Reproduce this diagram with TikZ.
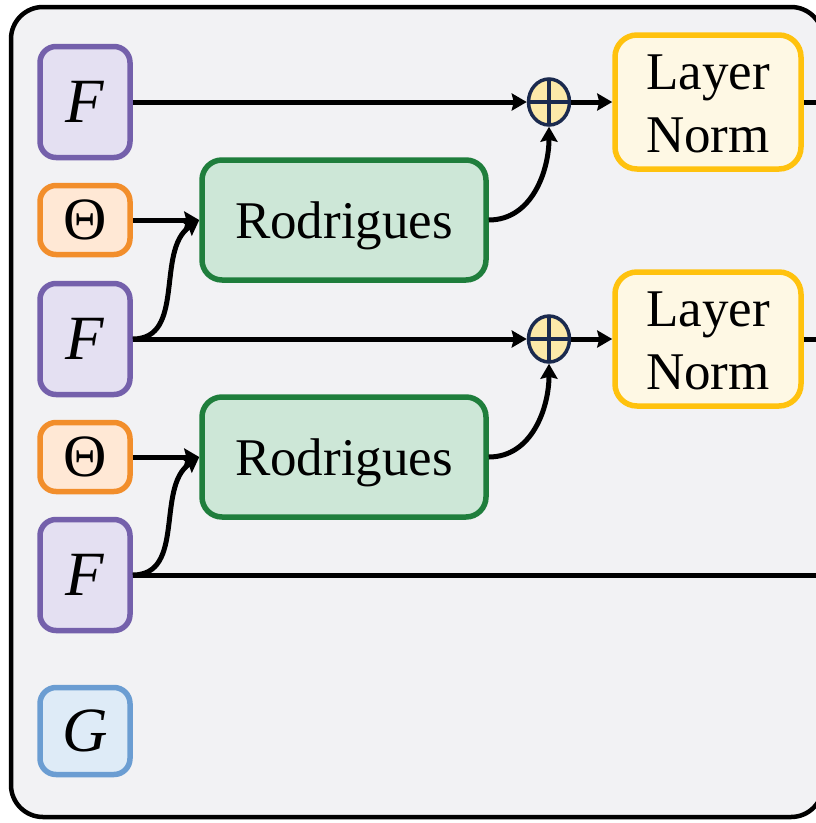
\documentclass[tikz,border=0pt]{standalone}
\usepackage{fontspec}
\setmainfont{Liberation Serif}
\usetikzlibrary{arrows.meta,shapes.geometric}

\definecolor{panelbg}{HTML}{F2F2F4}
\definecolor{ffill}{HTML}{E4E0F2}
\definecolor{fline}{HTML}{7460AB}
\definecolor{tfill}{HTML}{FFE8D5}
\definecolor{tline}{HTML}{F28E2B}
\definecolor{rfill}{HTML}{CDE7D7}
\definecolor{rline}{HTML}{1F7E3C}
\definecolor{lfill}{HTML}{FEF8E4}
\definecolor{lline}{HTML}{FFC20E}
\definecolor{sfill}{HTML}{FCE9A9}
\definecolor{sline}{HTML}{1B2A4E}
\definecolor{gfill}{HTML}{DEEBF7}
\definecolor{gline}{HTML}{6B9DD2}

\begin{document}
\begin{tikzpicture}[x=1pt,y=-1pt,
  box/.style={draw, line width=5.5pt, rounded corners=16pt, inner sep=0pt},
  fbox/.style={box, draw=fline, fill=ffill, minimum width=90pt, minimum height=111pt,
    font=\fontsize{63}{63}\selectfont\itshape},
  gbox/.style={box, draw=gline, fill=gfill, minimum width=90pt, minimum height=87pt,
    font=\fontsize{63}{63}\selectfont\itshape},
  thbox/.style={box, draw=tline, fill=tfill, minimum width=90pt, minimum height=69pt,
    font=\fontsize{60}{60}\selectfont},
  rodbox/.style={box, draw=rline, fill=rfill, minimum width=284pt, minimum height=120pt,
    rounded corners=20pt, text depth=0pt, font=\fontsize{53}{53}\selectfont},
  lnbox/.style={box, draw=lline, fill=lfill, minimum width=186pt, minimum height=134pt,
    rounded corners=22pt, align=center, font=\fontsize{53}{63}\selectfont},
  sumnode/.style={ellipse, draw=sline, fill=sfill, line width=3.5pt,
    minimum width=41pt, minimum height=46pt, inner sep=0pt,
    path picture={\draw[sline, line width=3.5pt]
      (path picture bounding box.north) -- (path picture bounding box.south)
      (path picture bounding box.west) -- (path picture bounding box.east);}},
  conn/.style={line width=5pt, black},
  arr/.style={conn, -{Stealth[length=15pt,width=17pt,inset=2pt]}}
]
\useasboundingbox (0,0) rectangle (815,823);

% panel frame
\draw[line width=4.5pt, fill=panelbg, rounded corners=32pt] (11,7) rectangle (823,817);

% input features and angles
\node[fbox]  (F1) at (85,102) {F};
\node[thbox] (T1) at (85,220) {Θ};
\node[fbox]  (F2) at (85,339) {F};
\node[thbox] (T2) at (85,457) {Θ};
\node[fbox]  (F3) at (85,575) {F};
\node[gbox]  (G)  at (85,731) {G};

% rotation blocks
\node[rodbox] (R1) at (344,220) {Rodrigues};
\node[rodbox] (R2) at (344,457) {Rodrigues};

% residual sums
\node[sumnode] (S1) at (549,102) {};
\node[sumnode] (S2) at (549,339) {};

% normalisation (a strut on the first line keeps the pair centred on the caps)
\node[lnbox] (L1) at (708,102) {\rule{0pt}{39pt}Layer\\Norm};
\node[lnbox] (L2) at (708,339) {\rule{0pt}{39pt}Layer\\Norm};

% outgoing ends
\coordinate (O1) at (830,102);
\coordinate (O2) at (830,339);
\coordinate (O3) at (830,575);

% first stage
\draw[arr] (F1.east) -- (S1.west);
\draw[arr] (S1.east) -- (L1.west);
\draw[conn] (L1.east) -- (O1);
\draw[arr] (T1.east) -- (R1.west);
\draw[arr] (F2.east) to[out=0,in=215] (R1.west);
\draw[arr] (R1.east) to[out=0,in=-90] (S1.south);

% second stage
\draw[arr] (F2.east) -- (S2.west);
\draw[arr] (S2.east) -- (L2.west);
\draw[conn] (L2.east) -- (O2);
\draw[arr] (T2.east) -- (R2.west);
\draw[arr] (F3.east) to[out=0,in=215] (R2.west);
\draw[arr] (R2.east) to[out=0,in=-90] (S2.south);
\draw[conn] (F3.east) -- (O3);
\end{tikzpicture}
\end{document}
